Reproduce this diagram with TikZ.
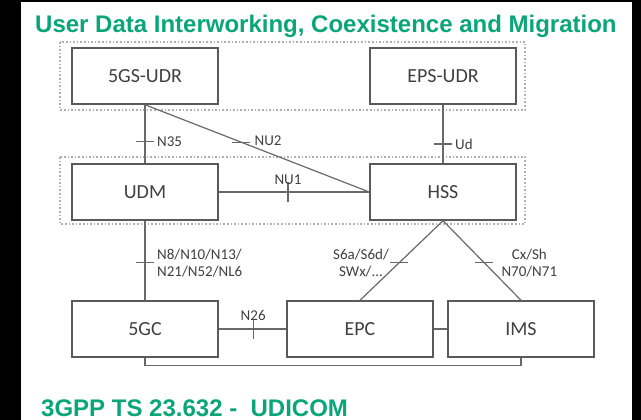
\documentclass[tikz,border=0pt]{standalone}
\usepackage{fontspec}
\setmainfont{Carlito}
\newfontfamily\headfont{Liberation Sans}
\usetikzlibrary{positioning}
\definecolor{udigreen}{RGB}{10,166,122}
\definecolor{boxgray}{RGB}{90,90,90}
\definecolor{linegray}{RGB}{105,105,105}
\definecolor{dotgray}{RGB}{175,175,175}
\definecolor{textgray}{RGB}{64,64,64}
\tikzset{
  nf/.style={draw=boxgray, line width=1.5pt, fill=white, minimum width=146pt, minimum height=56pt, inner sep=0pt, font=\fontsize{20}{22}\selectfont, text=textgray},
  iface/.style={draw=linegray, line width=1.2pt},
  tick/.style={draw=linegray, line width=1.2pt},
  lbl/.style={font=\fontsize{15}{17}\selectfont, text=textgray, inner sep=1pt, align=center},
  grp/.style={draw=dotgray, dotted, line width=1.6pt},
  head/.style={font=\headfont\bfseries\fontsize{24}{28}\selectfont, text=udigreen, inner sep=0pt}
}
\begin{document}
\begin{tikzpicture}[x=1pt,y=-1pt]
\fill[black] (0,0) rectangle (641,420);
\fill[white] (21,2) rectangle (632,420);
\useasboundingbox (0,0) rectangle (641,420);
\node[head, anchor=base west] (title) at (35,33) {User Data Interworking, Coexistence and Migration};
\node[head, anchor=base west] (spec) at (41,416) {3GPP TS 23.632 -\ \ UDICOM};
% dotted groups
\draw[grp] (60,42) rectangle (525,110);
\draw[grp] (60,157) rectangle (525,224);
% network functions
\node[nf] (udr5) at (145,76) {5GS-UDR};
\node[nf] (udreps) at (443,76) {EPS-UDR};
\node[nf] (udm) at (145,192) {UDM};
\node[nf] (hss) at (443,192) {HSS};
\node[nf] (gc5) at (145,329) {5GC};
\node[nf] (epc) at (360,329) {EPC};
\node[nf] (ims) at (521,329) {IMS};
% interfaces
\draw[iface] (udr5.south) -- coordinate[pos=0.63] (t35) (udm.north);
\draw[iface] (udr5.south) -- coordinate[pos=0.43] (tnu2) (hss.west);
\draw[iface] (udm.east) -- coordinate[pos=0.46] (tnu1) (hss.west);
\draw[iface] (udreps.south) -- coordinate[pos=0.67] (tud) (hss.north);
\draw[iface] (udm.south) -- coordinate[pos=0.53] (t8) (gc5.north);
\draw[iface] (gc5.east) -- coordinate[pos=0.51] (t26) (epc.west);
\draw[iface] (epc.east) -- (ims.west);
\draw[iface] (hss.south) -- coordinate[pos=0.53] (ts6a) (epc.north);
\draw[iface] (hss.south) -- coordinate[pos=0.53] (tcx) (ims.north);
\draw[iface] (gc5.south) -- ++(0,8) -| (ims.south);
\foreach \t in {t35,tnu2,tud,t8,ts6a,tcx} % horizontal ticks
\draw[tick] ([xshift=-9pt]\t) -- ([xshift=9pt]\t);
\foreach \t in {tnu1,t26} % vertical ticks
\draw[tick] ([yshift=-10pt]\t) -- ([yshift=10pt]\t);
% labels
\node[lbl, right=11pt of t35] (l35) {N35};
\node[lbl, right=12pt of tnu2, yshift=2pt] (lnu2) {NU2};
\node[lbl, above=6pt of tnu1] (lnu1) {NU1};
\node[lbl, right=11pt of tud] (lud) {Ud};
\node[lbl, right=11pt of t8, align=left] (l8) {N8/N10/N13/\\N21/N52/NL6};
\node[lbl, above=7pt of t26] (l26) {N26};
\node[lbl, left=38pt of ts6a, anchor=center] (ls6a) {S6a/S6d/\\SWx/...};
\node[lbl, right=45pt of tcx, anchor=center] (lcx) {Cx/Sh\\N70/N71};
\end{tikzpicture}
\end{document}
